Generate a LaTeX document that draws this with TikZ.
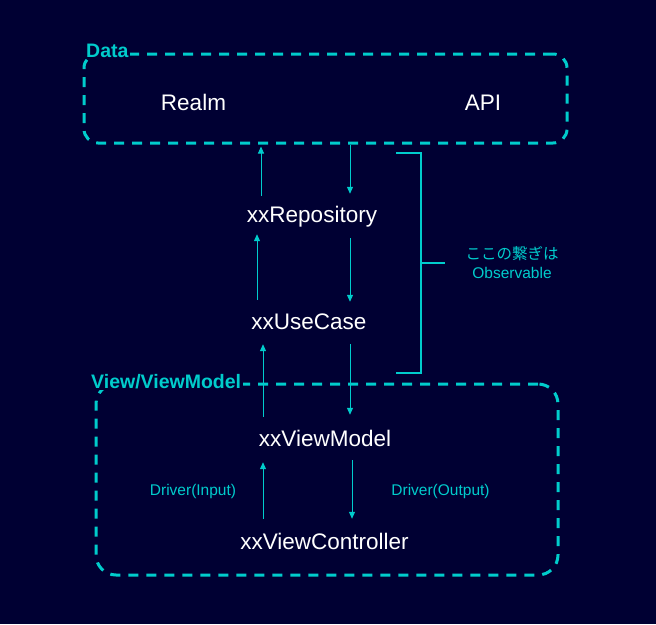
\documentclass[tikz,border=0pt]{standalone}
\usepackage{fontspec}
\setmainfont{Liberation Sans}
\newfontfamily\jpfont{Noto Sans CJK JP}
\usetikzlibrary{arrows.meta}

\definecolor{bgnavy}{HTML}{000033}
\definecolor{obscyan}{RGB}{0,204,204}

\tikzset{
	group/.style={draw=obscyan, line width=3pt, dash pattern=on 10pt off 8pt, inner sep=0pt},
	grouplabel/.style={fill=bgnavy, text=obscyan, font=\bfseries\fontsize{19.5}{22}\selectfont, anchor=base west, inner xsep=2pt, inner ysep=2pt},
	layer/.style={text=white, font=\fontsize{22.5}{27}\selectfont, anchor=base, inner sep=0pt, text height=16pt, text depth=5pt},
	note/.style={text=obscyan, font=\fontsize{15.5}{19}\selectfont},
	flow/.style={draw=obscyan, line width=1pt, -{Triangle[length=7pt,width=6pt]}},
	bracket/.style={draw=obscyan, line width=2pt},
}

\begin{document}
\begin{tikzpicture}[x=1pt, y=-1pt]
	\fill[bgnavy] (0, 0) rectangle (656, 624);
	% Groups:
	\node[group, rounded corners=14pt, minimum width=483pt, minimum height=89pt](data) at (325.5, 98.5){};
	\node[group, rounded corners=20pt, minimum width=462pt, minimum height=191pt](view) at (327, 479.5){};
	\node[grouplabel](datalabel) at (84, 57){Data};
	\node[grouplabel](viewlabel) at (89, 388){View/ViewModel};
	% Layers:
	\node[layer](realm) at (193.5, 110){Realm};
	\node[layer](api) at (483, 110){API};
	\node[layer](repo) at (312, 222){xxRepository};
	\node[layer](uc) at (309, 329){xxUseCase};
	\node[layer](vm) at (325, 446){xxViewModel};
	\node[layer](vc) at (324.5, 549){xxViewController};
	% Notes:
	\node[note, align=center](obs) at (512, 263){{\jpfont ここの繋ぎは}\\Observable};
	\node[note, anchor=base](drvin) at (193, 495){Driver(Input)};
	\node[note, anchor=base](drvout) at (440.5, 495){Driver(Output)};
	% Arrows:
	\coordinate (c1) at ([xshift=-51pt, yshift=10pt]repo.north);
	\coordinate (c2) at ([xshift=24.5pt]data.south);
	\coordinate (c3) at ([xshift=-52pt, yshift=13pt]uc.north);
	\coordinate (c4) at ([xshift=38pt, yshift=-11pt]repo.south);
	\coordinate (c5) at ([xshift=-62pt, yshift=13pt]vm.north);
	\coordinate (c6) at ([xshift=41pt, yshift=-10pt]uc.south);
	\coordinate (c7) at ([xshift=-61.5pt, yshift=14pt]vc.north);
	\coordinate (c8) at ([xshift=27pt, yshift=-9pt]vm.south);
	\draw[flow, shorten >=2pt] (c1) -- (c1 |- data.south);
	\draw[flow, shorten >=12pt] (c2) -- (c2 |- repo.north);
	\draw[flow, shorten >=7pt] (c3) -- (c3 |- repo.south);
	\draw[flow, shorten >=11pt] (c4) -- (c4 |- uc.north);
	\draw[flow, shorten >=10pt] (c5) -- (c5 |- uc.south);
	\draw[flow, shorten >=15pt] (c6) -- (c6 |- vm.north);
	\draw[flow, shorten >=11pt] (c7) -- (c7 |- vm.south);
	\draw[flow, shorten >=14pt] (c8) -- (c8 |- vc.north);
	% Bracket:
	\draw[bracket] (396, 153) -| (421, 373) -- (396, 373);
	\draw[bracket] (421, 263) -- (445, 263);
\end{tikzpicture}
\end{document}
